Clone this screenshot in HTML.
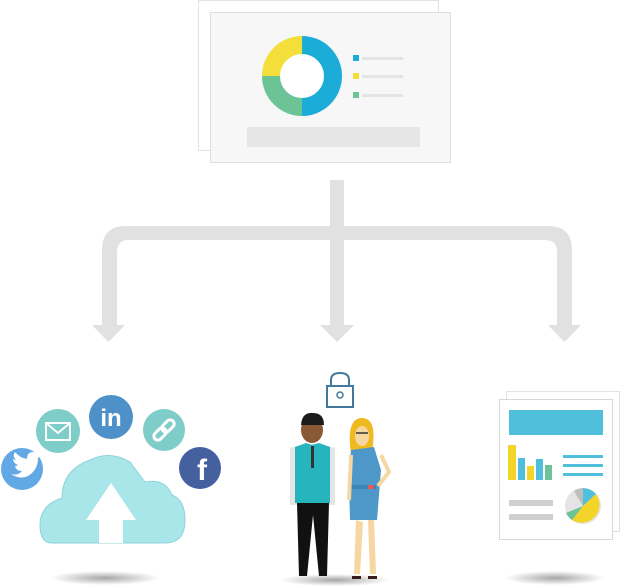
<!DOCTYPE html>
<html><head><style>
html,body{margin:0;padding:0;background:#fff;width:622px;height:588px;overflow:hidden;font-family:"Liberation Sans",sans-serif}
</style></head><body>
<svg width="622" height="588" viewBox="0 0 622 588" xmlns="http://www.w3.org/2000/svg">
<defs>
<radialGradient id="sh"><stop offset="0" stop-color="#000" stop-opacity=".35"/><stop offset="1" stop-color="#000" stop-opacity="0"/></radialGradient>
</defs>
<rect x="198.5" y="0.5" width="240" height="150" fill="#fff" stroke="#e2e2e2"/>
<rect x="210.5" y="12.5" width="240" height="150" fill="#f7f7f7" stroke="#dedede"/>
<circle cx="302" cy="76" r="22" fill="#fff"/>
<circle cx="302" cy="76" r="31" fill="none" stroke="#1badd8" stroke-width="18" stroke-dasharray="97.4 200" transform="rotate(-90 302 76)"/>
<circle cx="302" cy="76" r="31" fill="none" stroke="#6cc396" stroke-width="18" stroke-dasharray="48.7 200" transform="rotate(90 302 76)"/>
<circle cx="302" cy="76" r="31" fill="none" stroke="#f4de3a" stroke-width="18" stroke-dasharray="48.7 200" transform="rotate(180 302 76)"/>
<rect x="353" y="55" width="6" height="6" fill="#1badd8"/><rect x="362" y="57" width="41" height="3" fill="#e4e4e4"/>
<rect x="353" y="73" width="6" height="6" fill="#f4de3a"/><rect x="362" y="75" width="41" height="3" fill="#e4e4e4"/>
<rect x="353" y="92" width="6" height="6" fill="#6cc396"/><rect x="362" y="94" width="41" height="3" fill="#e4e4e4"/>
<rect x="247" y="127" width="173" height="20" fill="#e6e6e6"/>
<g fill="#e1e1e1">
<rect x="330" y="180" width="14" height="146"/>
<path d="M102 325 V250 Q102 226 126 226 H548 Q572 226 572 250 V325 H557 V252 Q557 240 545 240 H129 Q117 240 117 252 V325 Z"/>
<path d="M92 325 H125 L108.5 342 Z"/>
<path d="M320 325 H354 L337 342 Z"/>
<path d="M548 325 H581 L564.5 342 Z"/>
</g>
<ellipse cx="105" cy="578" rx="55" ry="7" fill="url(#sh)"/>
<ellipse cx="335" cy="580" rx="55" ry="6" fill="url(#sh)"/>
<ellipse cx="555" cy="578" rx="50" ry="7" fill="url(#sh)"/>
<path d="M52 543 Q40 543 40 525 Q40 505 62 498 Q62 470 90 460 Q110 450 130 462 Q142 478 145 482 Q165 478 172 495 Q185 500 185 520 Q185 543 165 543 Z" fill="#a9e6ea" stroke="#8fd3d8"/>
<path d="M99 543 V520 H86 L111 483 L136 520 H123 V543 Z" fill="#fff"/>
<circle cx="22" cy="469" r="21" fill="#62a8e4"/>
<path d="M11 474 Q18 476 22 471 Q16 471 15 466 Q17 466 18 465 Q13 463 13 459 Q15 460 16 460 Q12 456 15 452 Q20 458 27 459 Q27 452 33 452 Q35 452 37 454 L40 453 L38 456 L41 455 L38 458 Q38 470 28 476 Q20 480 11 474 Z" fill="#fff"/>
<circle cx="58" cy="431" r="22" fill="#7ecdc9"/>
<rect x="46" y="423" width="24" height="17" fill="none" stroke="#fff" stroke-width="2"/><path d="M46 423 L58 433 L70 423" fill="none" stroke="#fff" stroke-width="2"/>
<circle cx="111" cy="417" r="22" fill="#4d91c8"/>
<text x="111" y="426" text-anchor="middle" font-size="24" font-weight="bold" fill="#fff">in</text>
<circle cx="164" cy="430" r="21" fill="#7ecdc9"/>
<g fill="none" stroke="#fff" stroke-width="3">
<rect x="153" y="430" width="14" height="8" rx="4" transform="rotate(-45 160 434)"/>
<rect x="161" y="422" width="14" height="8" rx="4" transform="rotate(-45 168 426)"/>
</g>
<circle cx="200" cy="468" r="21" fill="#44609f"/>
<text x="202" y="480" text-anchor="middle" font-size="30" font-weight="bold" fill="#fff">f</text>
<rect x="327" y="386" width="26" height="21" fill="none" stroke="#43799c" stroke-width="2"/>
<path d="M331 386 V380 Q331 373 340 373 Q349 373 349 380 V386" fill="none" stroke="#43799c" stroke-width="2"/>
<circle cx="340" cy="395" r="3" fill="none" stroke="#43799c" stroke-width="1.5"/>
<ellipse cx="312" cy="430" rx="11" ry="13" fill="#8a5a36"/>
<path d="M301 425 Q302 412 313 413 Q324 413 324 425 Z" fill="#1c1c1c"/>
<path d="M290 448 L305 444 L320 444 L335 448 L335 505 L290 505 Z" fill="#e5e5e5"/>
<path d="M295 447 L306 443 L312 445 L319 443 L330 447 L330 503 L295 503 Z" fill="#26b4bd"/>
<rect x="311" y="446" width="3" height="22" fill="#333"/>
<path d="M297 503 H329 L327 576 H319 L313 515 L307 576 H299 Z" fill="#111"/>
<path d="M350 445 Q348 418 362 418 Q376 418 373 445 L370 465 L352 465 Z" fill="#efba20"/>
<ellipse cx="362" cy="436" rx="7" ry="10" fill="#f6d7a2"/>
<path d="M356 433 h12" stroke="#333" stroke-width="1.5"/>
<path d="M351 450 L374 447 L381 470 L377 520 L350 520 L349 480 Z" fill="#4e98c9"/>
<path d="M350 485 H376 V489 H350 Z" fill="#3b82b8"/><rect x="368" y="485" width="6" height="4" fill="#e65a5a"/>
<path d="M356 520 L354 574 H360 L363 522 Z M368 520 L370 574 H376 L374 520 Z" fill="#f6d7a2"/>
<path d="M352 576 h9 v3 h-9 z M368 576 h9 v3 h-9 z" fill="#3a1a1a"/>
<path d="M381 455 L389 472 L378 486" fill="none" stroke="#f6d7a2" stroke-width="4"/>
<path d="M351 455 L349 500" fill="none" stroke="#f6d7a2" stroke-width="4"/>
<rect x="506.5" y="391.5" width="113" height="140" fill="#fff" stroke="#e2e2e2"/>
<rect x="499.5" y="399.5" width="113" height="140" fill="#fff" stroke="#d8d8d8"/>
<rect x="509" y="410" width="94" height="25" fill="#50bfdb"/>
<rect x="508" y="445" width="8" height="35" fill="#f3d52a"/>
<rect x="518" y="458" width="7" height="22" fill="#50bfdb"/>
<rect x="527" y="466" width="7" height="14" fill="#f3d52a"/>
<rect x="536" y="459" width="7" height="21" fill="#50bfdb"/>
<rect x="545" y="465" width="7" height="15" fill="#6cc396"/>
<rect x="563" y="455" width="40" height="3" fill="#50bfdb"/>
<rect x="563" y="464" width="40" height="3" fill="#50bfdb"/>
<rect x="563" y="473" width="40" height="3" fill="#50bfdb"/>
<rect x="509" y="500" width="44" height="6" fill="#cfcfcf"/>
<rect x="509" y="514" width="44" height="6" fill="#cfcfcf"/>
<circle cx="583" cy="506" r="18" fill="#e4e4e4"/>
<path d="M583 506 L583 488 A18 18 0 0 1 596 494 Z" fill="#50bfdb"/>
<path d="M583 506 L596 494 A18 18 0 0 1 572 520 Z" fill="#f3d52a"/>
<path d="M583 506 L572 520 A18 18 0 0 1 566 513 Z" fill="#6cc396"/>
<path d="M583 506 L574 491 A18 18 0 0 1 583 488 Z" fill="#bdbdbd"/>
</svg>
</body></html>
